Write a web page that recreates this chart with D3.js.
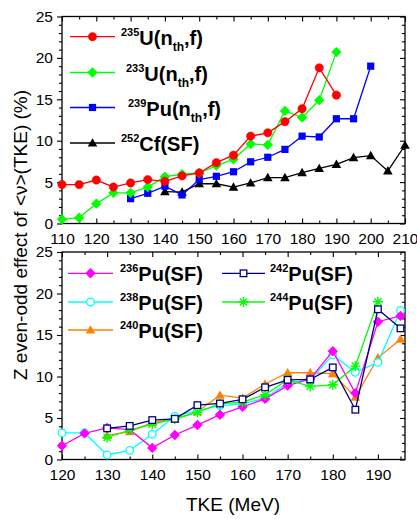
<!DOCTYPE html>
<html>
<head>
<meta charset="utf-8">
<script src="https://cdn.jsdelivr.net/npm/d3@7"></script>
<style>
  html, body { margin: 0; padding: 0; background: #fff; }
  svg { display: block; font-family: "Liberation Sans", Arial, sans-serif; }
</style>
</head>
<body>
<svg id="chart" width="417" height="519"></svg>
<script>
// ---- Upper panel: neutron-induced and 252Cf spontaneous fission ----
const u235Tke = [110,115,120,125,130,135,140,145,150,155,160,165,170,175,180,185,190];
const u235Val = [4.7,4.7,5.25,4.4,4.9,5.3,5.1,5.75,6.1,7.35,8.25,10.55,10.95,12.3,13.85,18.8,15.5];

const u233Tke = [110,115,120,125,130,135,140,145,150,155,160,165,170,175,180,185,190];
const u233Val = [0.5,0.7,2.4,3.7,3.7,4.4,5.65,5.95,6.1,7.0,7.75,9.6,9.5,13.6,12.8,14.9,20.7];

const pu239Tke = [130,135,140,145,150,155,160,165,170,175,180,185,190,195,200];
const pu239Val = [3.0,3.65,4.5,3.45,5.3,5.7,6.25,7.45,8.0,8.95,10.55,10.45,12.65,12.65,19.0];

const cf252Tke = [140,145,150,155,160,165,170,175,180,185,190,195,200,205,210];
const cf252Val = [3.85,3.8,4.8,4.8,4.4,4.9,5.55,5.55,6.15,6.65,7.15,7.95,8.2,6.35,9.45];

// ---- Lower panel: spontaneous fission of Pu isotopes ----
const pu236Tke = [120,125,130,135,140,145,150,155,160,165,170,175,180,185,190,195];
const pu236Val = [1.65,3.15,3.8,3.6,1.4,2.95,4.15,5.4,6.35,7.3,8.9,9.7,13.05,8.0,16.6,17.3];

const pu238Tke = [120,125,130,135,140,145,150,155,160,165,170,175,180,185,190,195];
const pu238Val = [3.2,3.2,0.55,1.1,3.05,5.2,5.9,6.5,6.7,7.4,9.2,9.6,12.6,10.5,11.7,17.95];

const pu240Tke = [130,135,140,145,150,155,160,165,170,175,180,185,190,195];
const pu240Val = [2.9,3.35,4.45,4.9,5.75,7.75,7.4,9.1,10.45,10.45,10.35,7.5,12.25,14.5];

const pu242Tke = [130,135,140,145,150,155,160,165,170,175,180,185,190,195];
const pu242Val = [3.75,4.05,4.75,4.9,6.55,6.75,7.25,8.7,9.6,9.65,11.1,6.0,18.1,15.8];

const pu244Tke = [130,135,140,145,150,155,160,165,170,175,180,185,190];
const pu244Val = [2.65,3.55,4.25,4.85,5.7,6.7,6.9,7.8,9.6,8.8,9.0,11.25,19.0];

// ---- Axis ticks ----
const yTicks = [0,5,10,15,20,25];
const yMinor = [1,2,3,4,6,7,8,9,11,12,13,14,16,17,18,19,21,22,23,24];
const topXTicks = [110,120,130,140,150,160,170,180,190,200,210];
const topXMinor = [115,125,135,145,155,165,175,185,195,205];
const botXTicks = [120,130,140,150,160,170,180,190];
const botXMinor = [125,135,145,155,165,175,185,195];

const xTitle = "TKE (MeV)";
const yTitle = "Z even-odd effect of <ν>(TKE) (%)";

// ---- Legend labels: [superscript, main, subscript, tail] ----
const topLegend = [
  {sup: "235", main: "U(n", sub: "th", tail: ",f)"},
  {sup: "233", main: "U(n", sub: "th", tail: ",f)"},
  {sup: "239", main: "Pu(n", sub: "th", tail: ",f)"},
  {sup: "252", main: "Cf(SF)", sub: "", tail: ""}
];
const botLegend = [
  {sup: "236", main: "Pu(SF)"},
  {sup: "238", main: "Pu(SF)"},
  {sup: "240", main: "Pu(SF)"},
  {sup: "242", main: "Pu(SF)"},
  {sup: "244", main: "Pu(SF)"}
];

const svg = d3.select("#chart");
const left = 62, right = 405;
const tickFont = 15.5;

const panels = [
  {top: 16.5, bottom: 223.5, domain: [110, 210], ticks: topXTicks, minor: topXMinor},
  {top: 252, bottom: 459.5, domain: [120, 196], ticks: botXTicks, minor: botXMinor}
];
panels.forEach(p => {
  p.x = d3.scaleLinear().domain(p.domain).range([left, right]);
  p.y = d3.scaleLinear().domain([0, 25]).range([p.bottom, p.top]);
});

// ---- Marker shapes ----
function marker(g, shape, color, cx, cy) {
  const sw = 1.3;
  if (shape === "circle") {
    g.append("circle").attr("cx", cx).attr("cy", cy).attr("r", 4.2).attr("fill", color).attr("stroke", color).attr("stroke-width", 0.5);
  } else if (shape === "ocircle") {
    g.append("circle").attr("cx", cx).attr("cy", cy).attr("r", 3.8).attr("fill", "#fff").attr("stroke", color).attr("stroke-width", sw);
  } else if (shape === "diamond") {
    const s = 5.2;
    g.append("path").attr("d", `M${cx},${cy - s}L${cx + s},${cy}L${cx},${cy + s}L${cx - s},${cy}Z`).attr("fill", color);
  } else if (shape === "square") {
    const s = 3.6;
    g.append("rect").attr("x", cx - s).attr("y", cy - s).attr("width", 2 * s).attr("height", 2 * s).attr("fill", color);
  } else if (shape === "osquare") {
    const s = 3.3;
    g.append("rect").attr("x", cx - s).attr("y", cy - s).attr("width", 2 * s).attr("height", 2 * s).attr("fill", "#fff").attr("stroke", color).attr("stroke-width", sw);
  } else if (shape === "triangle") {
    const s = 4.8;
    g.append("path").attr("d", `M${cx},${cy - s}L${cx + s},${cy + s * 0.75}L${cx - s},${cy + s * 0.75}Z`).attr("fill", color);
  } else if (shape === "star") {
    const s = 5, d = s * 0.72;
    g.append("path")
      .attr("d", `M${cx - s},${cy}L${cx + s},${cy}M${cx},${cy - s}L${cx},${cy + s}M${cx - d},${cy - d}L${cx + d},${cy + d}M${cx - d},${cy + d}L${cx + d},${cy - d}`)
      .attr("stroke", color).attr("stroke-width", 1.4).attr("fill", "none");
  }
}

function drawSeries(p, tke, val, color, shape) {
  const pts = tke.map((t, i) => [t, val[i]]);
  const line = d3.line().x(d => p.x(d[0])).y(d => p.y(d[1]));
  const g = svg.append("g");
  g.append("path").datum(pts).attr("d", line).attr("fill", "none").attr("stroke", color).attr("stroke-width", 1.3);
  pts.forEach(d => marker(g, shape, color, p.x(d[0]), p.y(d[1])));
}

// ---- Axes and frames ----
panels.forEach(p => {
  const noLab = () => "";
  const strip = g => g.select(".domain").remove();
  // left (outward), labelled
  svg.append("g").attr("transform", `translate(${left},0)`)
    .call(d3.axisLeft(p.y).tickValues(yTicks).tickSize(5).tickPadding(4)).call(strip)
    .call(g => g.selectAll("text").attr("font-size", tickFont).attr("fill", "#000"));
  svg.append("g").attr("transform", `translate(${left},0)`)
    .call(d3.axisLeft(p.y).tickValues(yMinor).tickSize(3).tickFormat(noLab)).call(strip);
  // right (inward)
  svg.append("g").attr("transform", `translate(${right},0)`)
    .call(d3.axisRight(p.y).tickValues(yTicks).tickSize(-5).tickFormat(noLab)).call(strip);
  svg.append("g").attr("transform", `translate(${right},0)`)
    .call(d3.axisRight(p.y).tickValues(yMinor).tickSize(-3).tickFormat(noLab)).call(strip);
  // bottom (inward), labelled
  svg.append("g").attr("transform", `translate(0,${p.bottom})`)
    .call(d3.axisBottom(p.x).tickValues(p.ticks).tickSize(-5).tickPadding(9.5)).call(strip)
    .call(g => g.selectAll("text").attr("font-size", tickFont).attr("fill", "#000"));
  svg.append("g").attr("transform", `translate(0,${p.bottom})`)
    .call(d3.axisBottom(p.x).tickValues(p.minor).tickSize(-3).tickFormat(noLab)).call(strip);
  // top (inward)
  svg.append("g").attr("transform", `translate(0,${p.top})`)
    .call(d3.axisTop(p.x).tickValues(p.ticks).tickSize(-5).tickFormat(noLab)).call(strip);
  svg.append("g").attr("transform", `translate(0,${p.top})`)
    .call(d3.axisTop(p.x).tickValues(p.minor).tickSize(-3).tickFormat(noLab)).call(strip);
  svg.selectAll(".tick line").attr("stroke", "#000").attr("stroke-width", 1.1);
  svg.append("rect").attr("x", left).attr("y", p.top)
    .attr("width", right - left).attr("height", p.bottom - p.top)
    .attr("fill", "none").attr("stroke", "#000").attr("stroke-width", 1.3);
});

// ---- Data ----
const P0 = panels[0], P1 = panels[1];
drawSeries(P0, cf252Tke, cf252Val, "#000000", "triangle");
drawSeries(P0, pu239Tke, pu239Val, "#0000ff", "square");
drawSeries(P0, u233Tke, u233Val, "#00ff00", "diamond");
drawSeries(P0, u235Tke, u235Val, "#ff0000", "circle");

drawSeries(P1, pu240Tke, pu240Val, "#ff8000", "triangle");
drawSeries(P1, pu238Tke, pu238Val, "#00ffff", "ocircle");
drawSeries(P1, pu236Tke, pu236Val, "#ff00ff", "diamond");
drawSeries(P1, pu244Tke, pu244Val, "#00ff00", "star");
drawSeries(P1, pu242Tke, pu242Val, "#000080", "osquare");

// ---- Legends ----
function legendRow(x0, x1, y, color, shape, tx, item) {
  const g = svg.append("g");
  g.append("line").attr("x1", x0).attr("x2", x1).attr("y1", y).attr("y2", y).attr("stroke", color).attr("stroke-width", 1.3);
  marker(g, shape, color, (x0 + x1) / 2, y);
  const t = g.append("text").attr("x", tx).attr("y", y + 8).attr("font-weight", "bold").attr("fill", "#000");
  t.append("tspan").attr("font-size", 11).attr("dy", -9).text(item.sup);
  t.append("tspan").attr("font-size", 20).attr("dy", 9).text(item.main);
  if (item.sub) {
    t.append("tspan").attr("font-size", 12).attr("dy", 6).text(item.sub);
    t.append("tspan").attr("font-size", 20).attr("dy", -6).text(item.tail);
  }
}
const topStyles = [["#ff0000","circle"],["#00ff00","diamond"],["#0000ff","square"],["#000000","triangle"]];
const topRowsY = [36.7, 72.5, 107.5, 143];
const topTextX = [121, 126, 128, 121];
topLegend.forEach((item, i) => legendRow(70, 115, topRowsY[i], topStyles[i][0], topStyles[i][1], topTextX[i], item));

const botStyles = [["#ff00ff","diamond"],["#00ffff","ocircle"],["#ff8000","triangle"],["#000080","osquare"],["#00ff00","star"]];
const botPos = [[68,113,273.3,120],[68,113,302,120],[68,113,330,120],[222,265,273.3,270],[222,265,302,270]];
botLegend.forEach((item, i) => {
  const b = botPos[i];
  legendRow(b[0], b[1], b[2], botStyles[i][0], botStyles[i][1], b[3], item);
});

// ---- Axis titles ----
svg.append("text").attr("x", 233).attr("y", 511).attr("text-anchor", "middle")
  .attr("font-size", 19).attr("fill", "#000").text(xTitle);
svg.append("text").attr("transform", "translate(27,235) rotate(-90)").attr("text-anchor", "middle")
  .attr("font-size", 19).attr("fill", "#000").text(yTitle);
</script>
</body>
</html>
